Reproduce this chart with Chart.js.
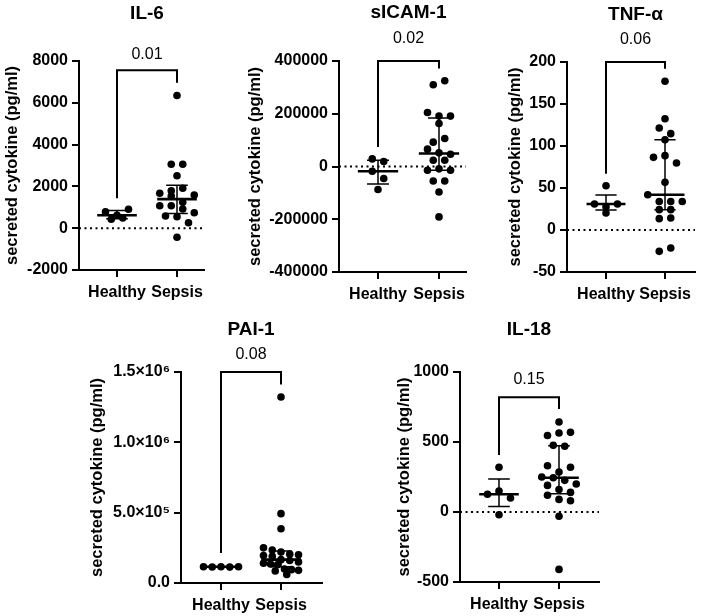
<!DOCTYPE html>
<html><head><meta charset="utf-8">
<script src="https://cdn.jsdelivr.net/npm/chart.js@4.4.0/dist/chart.umd.min.js"></script>
<style>
html,body{margin:0;padding:0;background:#fff;}
#wrap{position:relative;width:709px;height:616px;overflow:hidden;background:#fff;}
#wrap canvas{position:absolute;left:0;top:0;}
</style></head><body><div id="wrap"></div>
<script>
// ---------------- DATA ----------------
const categories = ["Healthy", "Sepsis"];
const yAxisTitle = "secreted cytokine (pg/ml)";

// IL-6
const il6Title = "IL-6";
const il6P = "0.01";
const il6Healthy = [790, 425, 617, 904, 488];
const il6Sepsis = [6350, 3057, 3057, 2512, 1670, 1794, 1909, 1589, 1541, 1239, 1077, 1077, 919, 742, 584, 550, 263, -435];
const il6Ticks = [-2000, 0, 2000, 4000, 6000, 8000];
const il6TickLabels = ["-2000", "0", "2000", "4000", "6000", "8000"];
const il6Bracket = [1430, 7560, 6960]; // healthy leg end, bar level, sepsis leg end

// sICAM-1
const icamTitle = "sICAM-1";
const icamP = "0.02";
const icamHealthy = [28900, 19000, -17900, -45600, -87400];
const icamSepsis = [310000, 325000, 205000, 191000, 191000, 163000, 92300, 106000, 65700, 51700, 46700, 23900, 23900, -14000, -9000, -14000, -54700, -54700, -96400, -191000];
const icamTicks = [-400000, -200000, 0, 200000, 400000];
const icamTickLabels = ["-400000", "-200000", "0", "200000", "400000"];
const icamBracket = [74400, 400000, 372000];

// TNF-alpha
const tnfTitle = "TNF-\u03B1";
const tnfP = "0.06";
const tnfHealthy = [52.7, 30.9, 27.7, 30.9, 20.2];
const tnfSepsis = [177, 132.5, 121.4, 114.7, 107.5, 86.5, 88.5, 79.8, 56.7, 42, 34, 34, 34, 24.2, 24.2, 13.5, 14.3, -25.4, -21.4];
const tnfTicks = [-50, 0, 50, 100, 150, 200];
const tnfTickLabels = ["-50", "0", "50", "100", "150", "200"];
const tnfBracket = [67, 200, 192];

// PAI-1
const paiTitle = "PAI-1";
const paiP = "0.08";
const paiHealthy = [115000, 114000, 116000, 113000, 115000];
const paiSepsis = [1322000, 493000, 386000, 250000, 235000, 220000, 205000, 200000, 195000, 190000, 166000, 160000, 150000, 140000, 135000, 130000, 100000, 95000, 90000, 85000, 60000];
const paiTicks = [0, 500000, 1000000, 1500000];
const paiTickLabels = ["0.0", "5.0\u00D710\u2075", "1.0\u00D710\u2076", "1.5\u00D710\u2076"];
const paiBracket = [213000, 1500000, 1412000];

// IL-18
const il18Title = "IL-18";
const il18P = "0.15";
const il18Healthy = [320, 127, 150, 100, -20];
const il18Sepsis = [643, 546, 564, 569, 476, 470, 330, 286, 320, 250, 245, 226, 200, 190, 160, 140, 120, 90, 80, -30, -410];
const il18Ticks = [-500, 0, 500, 1000];
const il18TickLabels = ["-500", "0", "500", "1000"];
const il18Bracket = [407, 820, 735];

// ---------------- LAYOUT ----------------
const FONT = '"Liberation Sans", Arial, Helvetica, sans-serif';
const W = 709, H = 616;
const Y_AXIS_W = 76, X_AXIS_H = 32;
const DOT_R = 3.8, ROW_H = 7.5, SPACING = 11.5, MAX_SPAN = 35;

const panels = [
  {title: il6Title, pText: il6P, healthy: il6Healthy, sepsis: il6Sepsis, ticks: il6Ticks, tickLabels: il6TickLabels, bracket: il6Bracket, zero: true,
   axisX: 79, xEnd: 204, top: 61, bottom: 270, c0: 117, c1: 177, titleY: 14, pY: 55, yTitleX: 12},
  {title: icamTitle, pText: icamP, healthy: icamHealthy, sepsis: icamSepsis, ticks: icamTicks, tickLabels: icamTickLabels, bracket: icamBracket, zero: true,
   axisX: 339, xEnd: 466, top: 61, bottom: 272, c0: 378, c1: 439, titleY: 13, pY: 39, yTitleX: 255},
  {title: tnfTitle, pText: tnfP, healthy: tnfHealthy, sepsis: tnfSepsis, ticks: tnfTicks, tickLabels: tnfTickLabels, bracket: tnfBracket, zero: true,
   axisX: 567, xEnd: 695, top: 62, bottom: 272, c0: 606, c1: 665, titleY: 15, pY: 40, yTitleX: 515},
  {title: paiTitle, pText: paiP, healthy: paiHealthy, sepsis: paiSepsis, ticks: paiTicks, tickLabels: paiTickLabels, bracket: paiBracket, zero: false,
   axisX: 181, xEnd: 322, top: 372, bottom: 583, c0: 221, c1: 281, titleY: 330, pY: 355, yTitleX: 97},
  {title: il18Title, pText: il18P, healthy: il18Healthy, sepsis: il18Sepsis, ticks: il18Ticks, tickLabels: il18TickLabels, bracket: il18Bracket, zero: true,
   axisX: 460, xEnd: 599, top: 372, bottom: 582, c0: 499, c1: 559, titleY: 330, pY: 380, yTitleX: 404}
];

Chart.defaults.font.family = FONT;
Chart.defaults.color = '#000';

function quantile(vals, p) {
  const s = vals.slice().sort((a, b) => a - b);
  const n = s.length;
  const pos = (n + 1) * p;
  if (pos <= 1) return s[0];
  if (pos >= n) return s[n - 1];
  const lo = Math.floor(pos), f = pos - lo;
  return s[lo - 1] + f * (s[lo] - s[lo - 1]);
}

function makeTextPlugin(P) {
  return {
    id: 'txt',
    afterDraw(chart) {
      const ctx = chart.ctx, xs = chart.scales.x, ca = chart.chartArea;
      const cx = xs.getPixelForValue(0.5);
      ctx.save();
      ctx.fillStyle = '#000';
      ctx.textAlign = 'center';
      ctx.textBaseline = 'middle';
      ctx.font = 'bold 19px ' + FONT;
      ctx.fillText(P.title, cx, P.titleY);
      ctx.font = '16px ' + FONT;
      ctx.fillText(P.pText, cx, P.pY);
      ctx.translate(P.yTitleX, (ca.top + ca.bottom) / 2);
      ctx.rotate(-Math.PI / 2);
      ctx.font = 'bold 16.5px ' + FONT;
      ctx.fillText(yAxisTitle, 0, 0);
      ctx.restore();
    }
  };
}

const wrap = document.getElementById('wrap');

panels.forEach(P => {
  const cv = document.createElement('canvas');
  cv.width = W; cv.height = H;
  cv.style.width = W + 'px'; cv.style.height = H + 'px';
  wrap.appendChild(cv);

  const sp = P.c1 - P.c0;
  const xmin = -(P.c0 - P.axisX) / sp;
  const xmax = 1 + (P.xEnd - P.c1) / sp;
  const groups = [P.healthy, P.sepsis];

  const medData = [], iqrData = [];
  groups.forEach((vals, g) => {
    const med = quantile(vals, 0.5), q1 = quantile(vals, 0.25), q3 = quantile(vals, 0.75);
    medData.push({x: g - 0.33, y: med}, {x: g + 0.33, y: med}, {x: g, y: null});
    iqrData.push({x: g - 0.18, y: q3}, {x: g + 0.18, y: q3}, {x: g, y: null});
    iqrData.push({x: g - 0.18, y: q1}, {x: g + 0.18, y: q1}, {x: g, y: null});
    iqrData.push({x: g, y: q1}, {x: g, y: q3}, {x: g, y: null});
  });

  const dots = [];
  groups.forEach((vals, g) => vals.forEach(v => dots.push({x: g, y: v})));

  const br = P.bracket;
  const datasets = [
    {label: 'median', data: medData, showLine: true, borderColor: '#000', borderWidth: 2.6, pointRadius: 0, spanGaps: false, order: 1, clip: false},
    {label: 'iqr', data: iqrData, showLine: true, borderColor: '#000', borderWidth: 1.5, pointRadius: 0, spanGaps: false, order: 2, clip: false},
    {label: 'bracket', data: [{x: 0, y: br[0]}, {x: 0, y: br[1]}, {x: 1, y: br[1]}, {x: 1, y: br[2]}], showLine: true,
     borderColor: '#000', borderWidth: 2, pointRadius: 0, order: 3, clip: false, borderCapStyle: 'butt', borderJoinStyle: 'miter'},
    {label: 'dots', data: dots, showLine: false, pointRadius: DOT_R, pointBackgroundColor: '#000', pointBorderWidth: 0, order: 10, clip: false}
  ];
  if (P.zero) {
    datasets.push({label: 'zero', data: [{x: xmin, y: 0}, {x: xmax, y: 0}], showLine: true, borderColor: '#000',
      borderWidth: 2, borderDash: [2, 3.5], pointRadius: 0, order: 20});
  }

  const chart = new Chart(cv, {
    type: 'scatter',
    data: {datasets},
    options: {
      responsive: false, devicePixelRatio: 1, animation: false, events: [],
      layout: {padding: {left: P.axisX - Y_AXIS_W, right: W - P.xEnd, top: P.top, bottom: H - P.bottom - X_AXIS_H}},
      plugins: {legend: {display: false}, tooltip: {enabled: false}, title: {display: false}},
      scales: {
        x: {
          type: 'linear', min: xmin, max: xmax,
          afterBuildTicks: s => { s.ticks = [{value: 0}, {value: 1}]; },
          afterFit: s => { s.height = X_AXIS_H; },
          grid: {display: true, drawOnChartArea: false, drawTicks: true, tickLength: 7, color: '#000', lineWidth: 2},
          border: {display: true, color: '#000', width: 2},
          ticks: {autoSkip: false, maxRotation: 0, minRotation: 0, padding: 6, color: '#000',
            font: {size: 16, weight: 'bold'}, callback: v => categories[v]}
        },
        y: {
          type: 'linear', min: P.ticks[0], max: P.ticks[P.ticks.length - 1],
          afterBuildTicks: s => { s.ticks = P.ticks.map(v => ({value: v})); },
          afterFit: s => { s.width = Y_AXIS_W; },
          grid: {display: true, drawOnChartArea: false, drawTicks: true, tickLength: 7, color: '#000', lineWidth: 2},
          border: {display: true, color: '#000', width: 2},
          ticks: {padding: 4, color: '#000', font: {size: 16, weight: 'bold'},
            callback: (v, i) => P.tickLabels[i]}
        }
      }
    },
    plugins: [makeTextPlugin(P)]
  });

  // spread dots horizontally in rows (column scatter layout)
  const xs = chart.scales.x, ys = chart.scales.y;
  const unitPx = xs.getPixelForValue(1) - xs.getPixelForValue(0);
  const pts = [];
  groups.forEach((vals, g) => {
    const idx = vals.map((v, i) => i).sort((a, b) => (vals[b] - vals[a]) || (a - b));
    const rows = [];
    let row = [], startPy = null;
    idx.forEach(i => {
      const py = ys.getPixelForValue(vals[i]);
      if (startPy === null || py - startPy >= ROW_H) {
        if (row.length) rows.push(row);
        row = [i]; startPy = py;
      } else row.push(i);
    });
    if (row.length) rows.push(row);
    rows.forEach(r => {
      r.sort((a, b) => a - b);
      const n = r.length;
      const s = n > 1 ? Math.min(SPACING, MAX_SPAN / (n - 1)) : 0;
      r.forEach((i, k) => pts.push({x: g + (k - (n - 1) / 2) * s / unitPx, y: vals[i]}));
    });
  });
  chart.data.datasets[3].data = pts;
  chart.update('none');
});
</script>
</body></html>
